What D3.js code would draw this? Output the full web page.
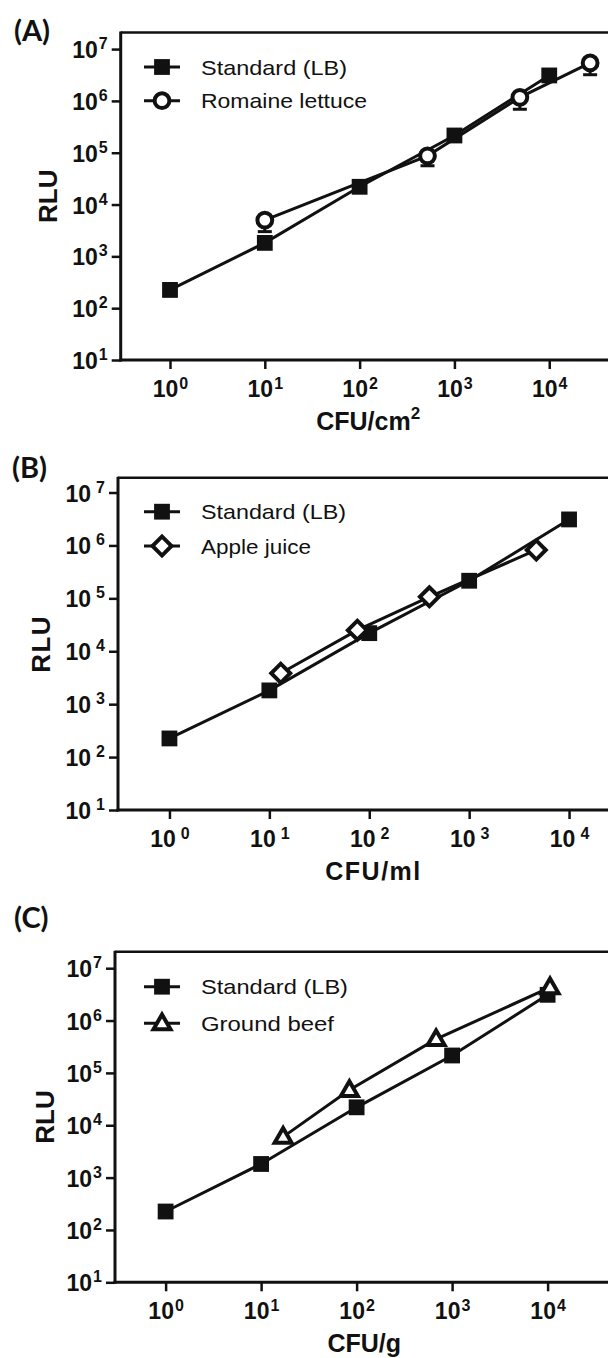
<!DOCTYPE html>
<html>
<head>
  <title>RLU vs CFU</title>
  <script src="https://d3js.org/d3.v7.min.js"></script>
  <style type="text/css">
    body {
      margin: 0;
      background-color: #ffffff;
    }
    svg text {
      fill: #111111;
    }
    .tick text.num {
      font-family: 'Liberation Sans', Arial, sans-serif;
      font-weight: bold;
    }
  </style>
</head>
<body>
<div id="chart"></div>

<script>
  // data
  var stdX = [1, 10, 100, 1000, 10000];
  var stdY = [225, 1820, 22000, 215000, 3100000];
  var romaineX = [10, 520, 4900, 27000];
  var romaineY = [5000, 87000, 1170000, 5400000];
  var romaineLow = [3000, 56000, 690000, 3200000];
  var appleX = [13, 76, 400, 4700];
  var appleY = [3840, 25000, 107000, 820000];
  var beefX = [17, 84, 680, 10600];
  var beefY = [6000, 47000, 440000, 4300000];
  var xTickExp = [0, 1, 2, 3, 4];
  var yTickExp = [1, 2, 3, 4, 5, 6, 7];
  var panelLabels = ["(A)", "(B)", "(C)"];
  var xTitles = ["CFU/cm", "CFU/ml", "CFU/g"];
  var seriesNames = ["Standard (LB)", "Romaine lettuce", "Apple juice", "Ground beef"];

  var W = 608, H = 1358;
  var svg = d3.select("#chart").append("svg").attr("width", W).attr("height", H);

  var black = "#111111";

  // layout of the three panels (pixel positions only)
  var panels = [
    {label: panelLabels[0], lx: 14, ly: 41, left: 120.7, right: 615.6, top: 32.5, bottom: 360,
     xd: [Math.pow(10, -0.52), Math.pow(10, 4.7)], yd: [10, Math.pow(10, 7.32)],
     title: xTitles[0], sup2: true, gap: 1, spacing: 0,
     sx: romaineX, sy: romaineY, low: romaineLow, marker: "circle", name: seriesNames[1],
     legY: 67, legDy: 33.7, legW: [146, 166], rluX: 48},
    {label: panelLabels[1], lx: 12, ly: 478, left: 118, right: 629, top: 477.7, bottom: 810,
     xd: [Math.pow(10, -0.515), Math.pow(10, 4.6)], yd: [10, Math.pow(10, 7.28)],
     title: xTitles[1], sup2: false, gap: 5, spacing: 1.5,
     sx: appleX, sy: appleY, low: null, marker: "diamond", name: seriesNames[2],
     legY: 511.7, legDy: 34.3, legW: [145, 110], rluX: 41},
    {label: panelLabels[2], lx: 14, ly: 928, left: 115, right: 613.5, top: 951.7, bottom: 1282.3,
     xd: [Math.pow(10, -0.53), Math.pow(10, 4.69)], yd: [10, Math.pow(10, 7.315)],
     title: xTitles[2], sup2: false, gap: 1, spacing: 0,
     sx: beefX, sy: beefY, low: null, marker: "triangle", name: seriesNames[3],
     legY: 986.7, legDy: 36.6, legW: [147, 133], rluX: 45}
  ];

  function drawMarker(g, type, cx, cy) {
    if (type === "square") {
      g.append("path").attr("d", d3.symbol().type(d3.symbolSquare).size(250)())
        .attr("transform", "translate(" + cx + "," + cy + ")").attr("fill", black);
    } else if (type === "circle") {
      g.append("circle").attr("cx", cx).attr("cy", cy).attr("r", 7.4)
        .attr("fill", "white").attr("stroke", black).attr("stroke-width", 4);
    } else if (type === "diamond") {
      g.append("path").attr("d", d3.symbol().type(d3.symbolSquare).size(180)())
        .attr("transform", "translate(" + cx + "," + cy + ") rotate(45)")
        .attr("fill", "white").attr("stroke", black).attr("stroke-width", 4)
        .attr("stroke-linejoin", "miter");
    } else if (type === "triangle") {
      g.append("path").attr("d", d3.symbol().type(d3.symbolTriangle).size(125)())
        .attr("transform", "translate(" + cx + "," + (cy + 1) + ")")
        .attr("fill", "white").attr("stroke", black).attr("stroke-width", 4)
        .attr("stroke-linejoin", "miter");
    }
  }

  panels.forEach(function (p) {
    var x = d3.scaleLog().domain(p.xd).range([p.left, p.right]);
    var y = d3.scaleLog().domain(p.yd).range([p.bottom, p.top]);
    var g = svg.append("g");

    // panel label
    g.append("text").attr("x", p.lx).attr("y", p.ly).text(p.label)
      .style("font-family", "Lato, 'Open Sans', sans-serif").style("font-weight", "bold")
      .style("font-size", "29px");

    // top border
    g.append("line").attr("x1", p.left).attr("x2", p.right + 5).attr("y1", p.top).attr("y2", p.top)
      .attr("stroke", black).attr("stroke-width", 2.5);

    // axes
    var xAxis = d3.axisBottom(x).tickValues(xTickExp.map(function (e) { return Math.pow(10, e); }))
      .tickSize(9).tickSizeOuter(0).tickFormat("");
    var yAxis = d3.axisLeft(y).tickValues(yTickExp.map(function (e) { return Math.pow(10, e); }))
      .tickSize(9).tickSizeOuter(0).tickFormat("");

    var gx = g.append("g").attr("transform", "translate(0," + p.bottom + ")").call(xAxis);
    var gy = g.append("g").attr("transform", "translate(" + p.left + ",0)").call(yAxis);
    [gx, gy].forEach(function (ax) {
      ax.select(".domain").attr("stroke", black).attr("stroke-width", 3);
      ax.selectAll(".tick line").attr("stroke", black).attr("stroke-width", 2.5);
    });
    gx.select(".domain").attr("d", "M" + (p.left - 1.5) + ",0H" + (p.right + 5));
    gy.select(".domain").attr("d", "M0," + (p.bottom + 1.5) + "V" + (p.top - 1));

    gx.selectAll(".tick").each(function (d, i) {
      var t = d3.select(this).append("text").attr("class", "num")
        .attr("text-anchor", "middle").attr("y", 36.5).attr("fill", black)
        .style("font-size", "23px");
      t.append("tspan").text("10");
      t.append("tspan").attr("dx", p.gap).attr("dy", -7.5).style("font-size", "16px").text(xTickExp[i]);
    });
    gy.selectAll(".tick").each(function (d, i) {
      var t = d3.select(this).append("text").attr("class", "num")
        .attr("text-anchor", "end").attr("x", -13).attr("y", 8.5).attr("fill", black)
        .style("font-size", "23px");
      t.append("tspan").text("10");
      t.append("tspan").attr("dx", p.gap).attr("dy", -9).style("font-size", "16px").text(yTickExp[i]);
    });

    // axis titles
    var cx = (p.left + p.right) / 2;
    var ttl = g.append("text").attr("x", cx).attr("y", p.bottom + 70).attr("text-anchor", "middle")
      .style("font-family", "'Liberation Sans', Arial, sans-serif").style("font-weight", "bold")
      .style("font-size", "25px").style("letter-spacing", p.spacing + "px");
    ttl.append("tspan").text(p.title);
    if (p.sup2) ttl.append("tspan").attr("dy", -11).style("font-size", "17px").text("2");

    g.append("text").attr("transform", "translate(" + (p.rluX + 9) + "," + ((p.top + p.bottom) / 2) + ") rotate(-90)")
      .attr("text-anchor", "middle").text("RLU")
      .style("font-family", "'Liberation Sans', Arial, sans-serif").style("font-weight", "bold")
      .style("font-size", "26px").style("letter-spacing", p.spacing + "px");

    // lines
    var line = d3.line().x(function (d) { return x(d[0]); }).y(function (d) { return y(d[1]); });
    var stdPts = stdX.map(function (v, i) { return [v, stdY[i]]; });
    var sPts = p.sx.map(function (v, i) { return [v, p.sy[i]]; });

    g.append("path").attr("d", line(stdPts)).attr("fill", "none").attr("stroke", black).attr("stroke-width", 3);
    g.append("path").attr("d", line(sPts)).attr("fill", "none").attr("stroke", black).attr("stroke-width", 3);

    // error bars (lower half)
    if (p.low) {
      p.low.forEach(function (lo, i) {
        var xx = x(p.sx[i]);
        g.append("line").attr("x1", xx).attr("x2", xx).attr("y1", y(p.sy[i])).attr("y2", y(lo))
          .attr("stroke", black).attr("stroke-width", 3);
        g.append("line").attr("x1", xx - 7).attr("x2", xx + 7).attr("y1", y(lo)).attr("y2", y(lo))
          .attr("stroke", black).attr("stroke-width", 3);
      });
    }

    stdPts.forEach(function (d) { drawMarker(g, "square", x(d[0]), y(d[1])); });
    sPts.forEach(function (d) { drawMarker(g, p.marker, x(d[0]), y(d[1])); });

    // legend
    var rows = [["square", seriesNames[0]], [p.marker, p.name]];
    rows.forEach(function (r, i) {
      var ly = p.legY + i * p.legDy;
      g.append("line").attr("x1", 144).attr("x2", 180).attr("y1", ly).attr("y2", ly)
        .attr("stroke", black).attr("stroke-width", 3);
      drawMarker(g, r[0], 162, ly);
      g.append("text").attr("x", 201).attr("y", ly + 7.5).text(r[1])
        .attr("textLength", p.legW[i]).attr("lengthAdjust", "spacingAndGlyphs")
        .style("font-family", "'Liberation Sans', Arial, sans-serif").style("font-size", "21px");
    });
  });
</script>

</body>
</html>
